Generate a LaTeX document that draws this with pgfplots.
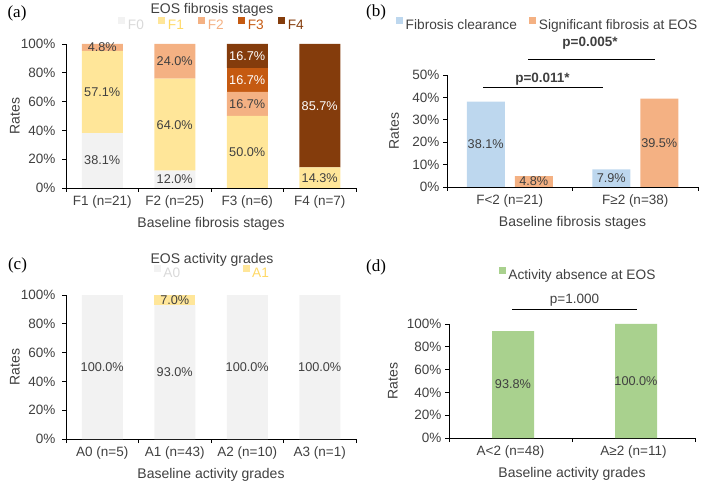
\documentclass[border=0pt]{standalone}
\usepackage{pgfplots}
\pgfplotsset{compat=1.18}
\usepackage{fontspec}
\setmainfont{Liberation Sans}
\newfontfamily\panelfont{Liberation Serif}

\definecolor{fzero}{HTML}{F2F2F2}
\definecolor{fzerotxt}{HTML}{D9D9D9}
\definecolor{fone}{HTML}{FFE699}
\definecolor{fonetxt}{HTML}{FFD966}
\definecolor{ftwo}{HTML}{F4B183}
\definecolor{fthree}{HTML}{C55A11}
\definecolor{ffour}{HTML}{843C0C}
\definecolor{clearblue}{HTML}{BDD7EE}
\definecolor{actgreen}{HTML}{A9D18E}
\definecolor{txt}{HTML}{404040}

\pgfplotsset{
  panel/.style={
    scale only axis,
    anchor=south west,
    axis x line*=bottom, axis y line*=left,
    axis line style={black, line width=0.8pt},
    tick style={black, line width=0.8pt},
    tick align=outside,
    major tick length=4pt,
    ymin=0,
    yticklabel={\pgfmathprintnumber{\tick}\%},
    /pgf/number format/assume math mode=true,
    tick label style={font=\fontsize{13.5}{16}\selectfont, text=txt},
    x tick label as interval,
    label style={font=\fontsize{14}{17}\selectfont, text=txt},
    ylabel=Rates,
    xlabel style={at={(axis description cs:0.5,0)}, anchor=center, yshift=-36pt},
    clip=false,
    legend style={draw=none, fill=none, font=\fontsize{13.7}{16}\selectfont,
      text=txt, nodes={inner sep=1.5pt},
      /tikz/every odd column/.append style={column sep=1pt}},
    legend cell align=left,
  },
  % small square legend keys, given after ybar so they win
  sq legend/.style={
    legend image code/.code={\fill[##1] (0pt,1.5pt) rectangle (7pt,8.5pt);},
  },
  % value label; #1 is the downward shift per data unit
  % (0 for stacked bars, which pgfplots already centres)
  mid label/.style={
    nodes near coords={\ifdim\labval pt>0.01pt\pgfmathprintnumber[fixed,fixed zerofill,precision=1,assume math mode=true]{\labval}\%\fi},
    every node near coord/.append style={
      /utils/exec={\pgfkeys{/pgf/fpu=true,/pgf/fpu/output format=fixed}%
        \pgfmathsetmacro\labval{\pgfplotspointmeta}%
        \pgfmathsetmacro\labshift{\pgfplotspointmeta*#1}%
        \pgfkeys{/pgf/fpu=false}},
      anchor=center, yshift=-\labshift pt,
      font=\fontsize{12.7}{15}\selectfont, text=txt},
  },
}

\begin{document}
\begin{tikzpicture}
\useasboundingbox (0,0) rectangle (704pt,-486pt);

% (a) EOS fibrosis stages by baseline stage
\begin{axis}[panel, at={(66pt,-188pt)}, width=290pt, height=144pt,
  xmin=-0.5, xmax=3.5, ymax=100, ytick={0,20,...,100},
  yticklabel style={xshift=-3pt},
  xtick={-0.5,0.5,1.5,2.5,3.5},
  xticklabels={F1 (n=21),F2 (n=25),F3 (n=6),F4 (n=7)},
  ybar stacked, bar width=41pt, sq legend,
  xlabel=Baseline fibrosis stages,
  ylabel style={at={(axis description cs:-0.176,0.5)}, anchor=center},
  legend columns=5,
  legend style={at={(axis description cs:0.503,1.132)}, anchor=center,
    /tikz/every even column/.append style={column sep=13pt}},
]
\addplot[fill=fzero, draw=none, mid label=0] coordinates {(0,38.1) (1,12.0) (2,0) (3,0)};
\addplot[fill=fone, draw=none, mid label=0] coordinates {(0,57.1) (1,64.0) (2,50.0) (3,14.3)};
\addplot[fill=ftwo, draw=none, mid label=0] coordinates {(0,4.8) (1,24.0) (2,16.7) (3,0)};
\addplot[fill=fthree, draw=none, mid label=0, every node near coord/.append style={text=white}] coordinates {(0,0) (1,0) (2,16.7) (3,0)};
\addplot[fill=ffour, draw=none, mid label=0, every node near coord/.append style={text=white}] coordinates {(0,0) (1,0) (2,16.7) (3,85.7)};
\legend{\textcolor{fzerotxt}{F0},\textcolor{fonetxt}{F1},\textcolor{ftwo}{F2},\textcolor{fthree}{F3},\textcolor{ffour}{F4}}
\end{axis}

% (b) fibrosis clearance vs significant fibrosis
\begin{axis}[panel, at={(447pt,-187pt)}, width=251pt, height=112pt,
  xmin=-0.5, xmax=1.5, ymax=50, ytick={0,10,...,50},
  xtick={-0.5,0.5,1.5},
  xticklabels={F<2 (n=21),F≥2 (n=38)},
  ybar=10pt, bar width=38pt, sq legend,
  xlabel=Baseline fibrosis stages,
  ylabel style={at={(axis description cs:-0.211,0.5)}, anchor=center},
  legend columns=2,
  legend style={at={(axis description cs:-0.215,1.446)}, anchor=west,
    /tikz/every even column/.append style={column sep=11pt}},
]
\addplot[fill=clearblue, draw=none, mid label=1.12] coordinates {(0,38.1) (1,7.9)};
\addplot[fill=ftwo, draw=none, mid label=1.12] coordinates {(0,4.8) (1,39.5)};
\legend{Fibrosis clearance,Significant fibrosis at EOS}
\end{axis}

% (c) EOS activity grades by baseline grade
\begin{axis}[panel, at={(66pt,-439pt)}, width=290pt, height=144pt,
  xmin=-0.5, xmax=3.5, ymax=100, ytick={0,20,...,100},
  yticklabel style={xshift=-3pt},
  xtick={-0.5,0.5,1.5,2.5,3.5},
  xticklabels={A0 (n=5),A1 (n=43),A2 (n=10),A3 (n=1)},
  ybar stacked, bar width=41pt, sq legend,
  xlabel=Baseline activity grades,
  ylabel style={at={(axis description cs:-0.176,0.5)}, anchor=center},
  legend columns=2,
  legend style={at={(axis description cs:0.504,1.153)}, anchor=center,
    /tikz/every even column/.append style={column sep=61pt}},
]
\addplot[fill=fzero, draw=none, mid label=0] coordinates {(0,100.0) (1,93.0) (2,100.0) (3,100.0)};
\addplot[fill=fone, draw=none, mid label=0] coordinates {(0,0) (1,7.0) (2,0) (3,0)};
\legend{\textcolor{fzerotxt}{A0},\textcolor{fonetxt}{A1}}
\end{axis}

% (d) activity absence at EOS
\begin{axis}[panel, at={(449pt,-438pt)}, width=246pt, height=114pt,
  xmin=-0.5, xmax=1.5, ymax=100, ytick={0,20,...,100},
  xtick={-0.5,0.5,1.5},
  xticklabels={A<2 (n=48),A≥2 (n=11)},
  ybar, bar width=42pt, bar shift=2.5pt, sq legend,
  xlabel=Baseline activity grades,
  ylabel style={at={(axis description cs:-0.228,0.5)}, anchor=center},
  legend style={at={(axis description cs:0.19,1.43)}, anchor=west},
]
\addplot[fill=actgreen, draw=none, mid label=0.57] coordinates {(0,93.8) (1,100.0)};
\legend{Activity absence at EOS}
\end{axis}

% legend titles
\node[font=\fontsize{14}{17}\selectfont, text=txt] at (212pt,-10pt) {EOS fibrosis stages};
\node[font=\fontsize{14}{17}\selectfont, text=txt] at (212pt,-260pt) {EOS activity grades};

% p-value brackets
\draw[black, line width=0.8pt] (483pt,-87pt) -- (603pt,-87pt);
\node[font=\fontsize{13.5}{16}\selectfont\bfseries, text=txt] at (542.5pt,-79pt) {p=0.011*};
\draw[black, line width=0.8pt] (528pt,-59.5pt) -- (655pt,-59.5pt);
\node[font=\fontsize{13.5}{16}\selectfont\bfseries, text=txt] at (590pt,-43pt) {p=0.005*};
\draw[black, line width=0.8pt] (512pt,-309pt) -- (637pt,-309pt);
\node[font=\fontsize{13.5}{16}\selectfont, text=txt] at (574.5pt,-300pt) {p=1.000};

% panel letters
\node[font=\fontsize{17}{20}\selectfont\panelfont] at (17pt,-13pt) {(a)};
\node[font=\fontsize{17}{20}\selectfont\panelfont] at (376pt,-12pt) {(b)};
\node[font=\fontsize{17}{20}\selectfont\panelfont] at (17.5pt,-265pt) {(c)};
\node[font=\fontsize{17}{20}\selectfont\panelfont] at (376pt,-267pt) {(d)};
\end{tikzpicture}
\end{document}
